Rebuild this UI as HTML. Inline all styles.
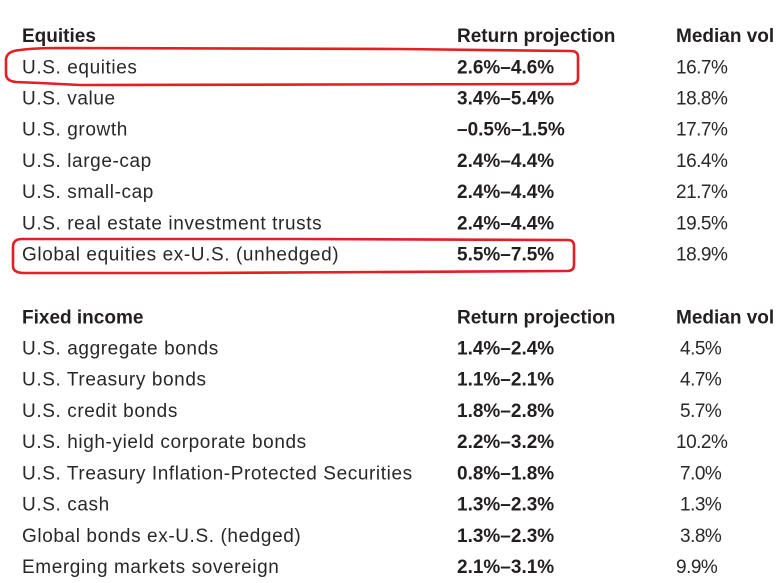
<!DOCTYPE html>
<html>
<head>
<meta charset="utf-8">
<style>
  html,body{margin:0;padding:0;background:#fff;}
  svg{display:block;}
  text{font-family:"Liberation Sans",Arial,sans-serif;font-size:19px;fill:#231f20;}
  .r{letter-spacing:0.6px;fill:#2a2728;}
  .v{letter-spacing:-0.5px;fill:#2a2728;}
  .b{font-weight:bold;}
</style>
</head>
<body>
<svg width="777" height="583" viewBox="0 0 777 583" xmlns="http://www.w3.org/2000/svg">
  <rect width="777" height="583" fill="#fff"/>

  <!-- Equities -->
  <text x="22" y="42" class="b">Equities</text>
  <text x="457" y="42" class="b">Return projection</text>
  <text x="676" y="42" class="b">Median vol</text>

  <text x="22" y="73.5" class="r">U.S. equities</text>
  <text x="457" y="73.5" class="b">2.6%–4.6%</text>
  <text x="676" y="73.5" class="v">16.7%</text>

  <text x="22" y="104.5" class="r">U.S. value</text>
  <text x="457" y="104.5" class="b">3.4%–5.4%</text>
  <text x="676" y="104.5" class="v">18.8%</text>

  <text x="22" y="135.5" class="r">U.S. growth</text>
  <text x="457" y="135.5" class="b">–0.5%–1.5%</text>
  <text x="676" y="135.5" class="v">17.7%</text>

  <text x="22" y="167" class="r">U.S. large-cap</text>
  <text x="457" y="167" class="b">2.4%–4.4%</text>
  <text x="676" y="167" class="v">16.4%</text>

  <text x="22" y="198" class="r">U.S. small-cap</text>
  <text x="457" y="198" class="b">2.4%–4.4%</text>
  <text x="676" y="198" class="v">21.7%</text>

  <text x="22" y="229.5" class="r">U.S. real estate investment trusts</text>
  <text x="457" y="229.5" class="b">2.4%–4.4%</text>
  <text x="676" y="229.5" class="v">19.5%</text>

  <text x="22" y="260.5" class="r">Global equities ex-U.S. (unhedged)</text>
  <text x="457" y="260.5" class="b">5.5%–7.5%</text>
  <text x="676" y="260.5" class="v">18.9%</text>

  <!-- Fixed income -->
  <text x="22" y="323.5" class="b">Fixed income</text>
  <text x="457" y="323.5" class="b">Return projection</text>
  <text x="676" y="323.5" class="b">Median vol</text>

  <text x="22" y="354.5" class="r">U.S. aggregate bonds</text>
  <text x="457" y="354.5" class="b">1.4%–2.4%</text>
  <text x="680" y="354.5" class="v">4.5%</text>

  <text x="22" y="385.5" class="r">U.S. Treasury bonds</text>
  <text x="457" y="385.5" class="b">1.1%–2.1%</text>
  <text x="680" y="385.5" class="v">4.7%</text>

  <text x="22" y="417" class="r">U.S. credit bonds</text>
  <text x="457" y="417" class="b">1.8%–2.8%</text>
  <text x="680" y="417" class="v">5.7%</text>

  <text x="22" y="448" class="r">U.S. high-yield corporate bonds</text>
  <text x="457" y="448" class="b">2.2%–3.2%</text>
  <text x="676" y="448" class="v">10.2%</text>

  <text x="22" y="479.5" class="r">U.S. Treasury Inflation-Protected Securities</text>
  <text x="457" y="479.5" class="b">0.8%–1.8%</text>
  <text x="680" y="479.5" class="v">7.0%</text>

  <text x="22" y="510.5" class="r">U.S. cash</text>
  <text x="457" y="510.5" class="b">1.3%–2.3%</text>
  <text x="680" y="510.5" class="v">1.3%</text>

  <text x="22" y="542" class="r">Global bonds ex-U.S. (hedged)</text>
  <text x="457" y="542" class="b">1.3%–2.3%</text>
  <text x="680" y="542" class="v">3.8%</text>

  <text x="22" y="573" class="r">Emerging markets sovereign</text>
  <text x="457" y="573" class="b">2.1%–3.1%</text>
  <text x="676" y="573" class="v">9.9%</text>

  <!-- Red highlight boxes -->
  <path d="M 60 48 L 400 49 L 571 51 Q 578 51 578 57 L 578 78 Q 578 84 571 84 L 80 85 L 40 83 L 16 82 Q 6 81 6 74 L 6 59 Q 7 51 20 50 Q 35 48 60 48 Z"
        fill="none" stroke="#e31e24" stroke-width="2.6" stroke-linejoin="round"/>
  <path d="M 22 239 L 300 239 L 568 240 Q 574 240 574 246 L 574 265 Q 574 271 567 271 L 200 273 L 24 273 Q 13 273 13 266 L 13 247 Q 13 239 22 239 Z"
        fill="none" stroke="#e31e24" stroke-width="2.6" stroke-linejoin="round"/>
</svg>
</body>
</html>
